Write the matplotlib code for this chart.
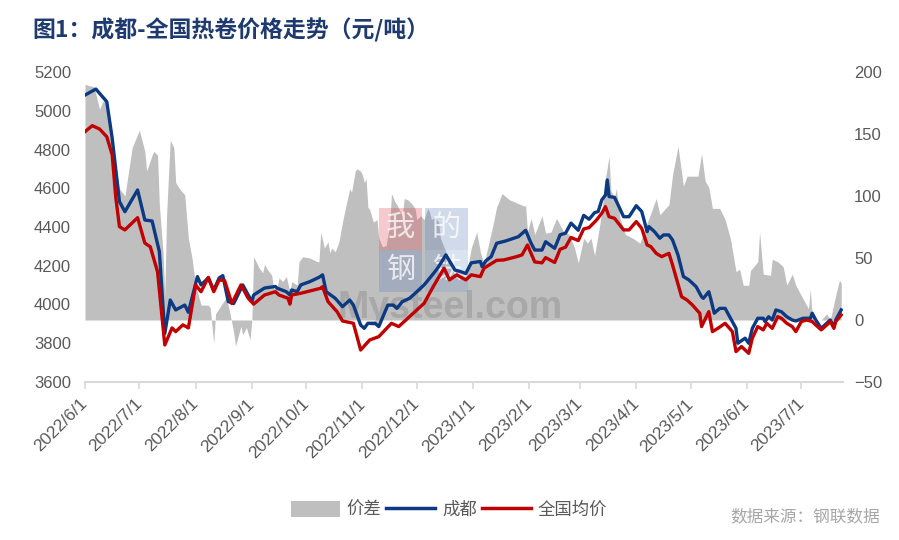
import matplotlib
matplotlib.use('Agg')
import matplotlib.pyplot as plt
from matplotlib.patches import Patch, Rectangle
from matplotlib.lines import Line2D
import pandas as pd

plt.rcParams['font.family'] = ['Liberation Sans', 'Noto Sans CJK SC']

# ---------------- data ----------------
tick_dates = ["2022-06-01", "2022-07-01", "2022-08-01", "2022-09-01", "2022-10-01", "2022-11-01",
              "2022-12-01", "2023-01-01", "2023-02-01", "2023-03-01", "2023-04-01", "2023-05-01",
              "2023-06-01", "2023-07-01"]
tick_labels = ["2022/6/1", "2022/7/1", "2022/8/1", "2022/9/1", "2022/10/1", "2022/11/1",
               "2022/12/1", "2023/1/1", "2023/2/1", "2023/3/1", "2023/4/1", "2023/5/1",
               "2023/6/1", "2023/7/1"]

# 成都
cd_dates = [
    "2022-06-01", "2022-06-07", "2022-06-13", "2022-06-16", "2022-06-20", "2022-06-23", "2022-06-30", "2022-07-04", "2022-07-08", "2022-07-12",
    "2022-07-15", "2022-07-18", "2022-07-21", "2022-07-26", "2022-07-28", "2022-08-02", "2022-08-04", "2022-08-08", "2022-08-11", "2022-08-14",
    "2022-08-16", "2022-08-19", "2022-08-22", "2022-08-27", "2022-09-01", "2022-09-02", "2022-09-08", "2022-09-14", "2022-09-15", "2022-09-20",
    "2022-09-22", "2022-09-23", "2022-09-26", "2022-09-28", "2022-10-03", "2022-10-08", "2022-10-10", "2022-10-12", "2022-10-17", "2022-10-21",
    "2022-10-25", "2022-10-27", "2022-10-31", "2022-11-02", "2022-11-04", "2022-11-08", "2022-11-10", "2022-11-15", "2022-11-18", "2022-11-20",
    "2022-11-23", "2022-11-27", "2022-12-01", "2022-12-05", "2022-12-08", "2022-12-11", "2022-12-13", "2022-12-17", "2022-12-22", "2022-12-25",
    "2022-12-28", "2022-12-31", "2023-01-05", "2023-01-06", "2023-01-08", "2023-01-11", "2023-01-14", "2023-01-19", "2023-01-26", "2023-01-30",
    "2023-02-02", "2023-02-04", "2023-02-08", "2023-02-10", "2023-02-15", "2023-02-18", "2023-02-21", "2023-02-24", "2023-02-28", "2023-03-03",
    "2023-03-06", "2023-03-09", "2023-03-11", "2023-03-13", "2023-03-15", "2023-03-16", "2023-03-17", "2023-03-20", "2023-03-22", "2023-03-25",
    "2023-03-28", "2023-04-01", "2023-04-04", "2023-04-07", "2023-04-08", "2023-04-11", "2023-04-14", "2023-04-16", "2023-04-19", "2023-04-21",
    "2023-04-24", "2023-04-27", "2023-04-30", "2023-05-04", "2023-05-07", "2023-05-08", "2023-05-11", "2023-05-12", "2023-05-14", "2023-05-17",
    "2023-05-20", "2023-05-23", "2023-05-26", "2023-05-27", "2023-05-31", "2023-06-02", "2023-06-04", "2023-06-07", "2023-06-10", "2023-06-11",
    "2023-06-13", "2023-06-15", "2023-06-17", "2023-06-20", "2023-06-23", "2023-06-26", "2023-06-28", "2023-07-02", "2023-07-06", "2023-07-07",
    "2023-07-09", "2023-07-12", "2023-07-15", "2023-07-17", "2023-07-19", "2023-07-20", "2023-07-23"]
cd_vals = [
    5081, 5112, 5047, 4858, 4531, 4479, 4591, 4436, 4431, 4273,
    3850, 4023, 3972, 3997, 3960, 4144, 4101, 4137, 4075, 4137,
    4149, 4015, 4005, 4101, 4015, 4049, 4085, 4093, 4084, 4066,
    4049, 4075, 4066, 4101, 4118, 4140, 4153, 4066, 4032, 3989,
    4023, 3997, 3894, 3877, 3903, 3903, 3886, 3997, 3997, 3980,
    4015, 4032, 4066, 4101, 4135, 4170, 4195, 4256, 4178, 4170,
    4160, 4215, 4222, 4195, 4225, 4247, 4316, 4328, 4350, 4383,
    4316, 4281, 4281, 4324, 4290, 4360, 4368, 4420, 4383, 4460,
    4440, 4474, 4480, 4540, 4565, 4643, 4557, 4553, 4514, 4453,
    4453, 4510, 4480, 4376, 4402, 4376, 4342, 4359, 4359, 4333,
    4256, 4144, 4127, 4092, 4040, 4032, 4066, 4032, 3955, 3980,
    3980, 3929, 3877, 3800, 3826, 3800, 3877, 3929, 3929, 3912,
    3937, 3920, 3972, 3963, 3937, 3920, 3915, 3929, 3929, 3955,
    3920, 3877, 3903, 3920, 3886, 3920, 3972]

# 全国均价
qg_dates = [
    "2022-06-01", "2022-06-05", "2022-06-09", "2022-06-13", "2022-06-16", "2022-06-18", "2022-06-20", "2022-06-23", "2022-06-30", "2022-07-04",
    "2022-07-07", "2022-07-11", "2022-07-15", "2022-07-19", "2022-07-21", "2022-07-25", "2022-07-28", "2022-08-01", "2022-08-04", "2022-08-08",
    "2022-08-11", "2022-08-14", "2022-08-17", "2022-08-21", "2022-08-26", "2022-08-30", "2022-09-02", "2022-09-08", "2022-09-14", "2022-09-16",
    "2022-09-21", "2022-09-22", "2022-09-23", "2022-09-28", "2022-10-09", "2022-10-10", "2022-10-13", "2022-10-18", "2022-10-21", "2022-10-27",
    "2022-10-31", "2022-11-05", "2022-11-10", "2022-11-17", "2022-11-21", "2022-11-29", "2022-12-05", "2022-12-10", "2022-12-16", "2022-12-19",
    "2022-12-23", "2022-12-28", "2022-12-31", "2023-01-05", "2023-01-07", "2023-01-14", "2023-01-18", "2023-01-25", "2023-01-28", "2023-01-31",
    "2023-02-04", "2023-02-08", "2023-02-10", "2023-02-15", "2023-02-18", "2023-02-21", "2023-02-24", "2023-02-28", "2023-03-03", "2023-03-06",
    "2023-03-10", "2023-03-13", "2023-03-15", "2023-03-17", "2023-03-20", "2023-03-25", "2023-03-28", "2023-04-01", "2023-04-04", "2023-04-07",
    "2023-04-09", "2023-04-12", "2023-04-15", "2023-04-19", "2023-04-21", "2023-04-26", "2023-04-29", "2023-05-02", "2023-05-06", "2023-05-07",
    "2023-05-11", "2023-05-13", "2023-05-16", "2023-05-20", "2023-05-24", "2023-05-26", "2023-05-29", "2023-06-02", "2023-06-04", "2023-06-07",
    "2023-06-10", "2023-06-12", "2023-06-15", "2023-06-18", "2023-06-20", "2023-06-23", "2023-06-26", "2023-06-28", "2023-07-01", "2023-07-04",
    "2023-07-07", "2023-07-09", "2023-07-12", "2023-07-15", "2023-07-17", "2023-07-19", "2023-07-20", "2023-07-23"]
qg_vals = [
    4892, 4923, 4906, 4866, 4772, 4550, 4402, 4385, 4448, 4317,
    4298, 4169, 3791, 3879, 3860, 3895, 3879, 4101, 4066, 4140,
    4066, 4127, 4123, 4005, 4101, 4032, 4002, 4049, 4066, 4049,
    4032, 4002, 4049, 4058, 4084, 4092, 4015, 3963, 3915, 3903,
    3765, 3817, 3834, 3903, 3886, 3955, 4006, 4092, 4187, 4127,
    4153, 4127, 4153, 4144, 4187, 4228, 4230, 4247, 4256, 4307,
    4220, 4215, 4242, 4217, 4285, 4296, 4346, 4330, 4390, 4397,
    4435, 4471, 4505, 4453, 4445, 4385, 4385, 4428, 4393, 4307,
    4299, 4264, 4247, 4264, 4204, 4040, 4023, 3997, 3955, 3886,
    3963, 3860, 3877, 3903, 3860, 3757, 3783, 3748, 3826, 3886,
    3869, 3903, 3877, 3937, 3929, 3903, 3886, 3860, 3912, 3920,
    3912, 3894, 3869, 3894, 3912, 3877, 3912, 3946]

# 价差 (right axis)
jc_dates = [
    "2022-06-01", "2022-06-06", "2022-06-09", "2022-06-12", "2022-06-15", "2022-06-17", "2022-06-20", "2022-06-23", "2022-06-27", "2022-07-01",
    "2022-07-04", "2022-07-05", "2022-07-08", "2022-07-09", "2022-07-11", "2022-07-12", "2022-07-14", "2022-07-15", "2022-07-16", "2022-07-18",
    "2022-07-20", "2022-07-21", "2022-07-23", "2022-07-26", "2022-07-28", "2022-07-30", "2022-08-01", "2022-08-04", "2022-08-08", "2022-08-09",
    "2022-08-11", "2022-08-12", "2022-08-16", "2022-08-18", "2022-08-20", "2022-08-22", "2022-08-23", "2022-08-26", "2022-08-27", "2022-08-29",
    "2022-08-31", "2022-09-01", "2022-09-02", "2022-09-05", "2022-09-07", "2022-09-08", "2022-09-09", "2022-09-12", "2022-09-13", "2022-09-15",
    "2022-09-16", "2022-09-18", "2022-09-20", "2022-09-22", "2022-09-23", "2022-09-26", "2022-09-27", "2022-09-29", "2022-10-03", "2022-10-07",
    "2022-10-08", "2022-10-09", "2022-10-11", "2022-10-13", "2022-10-14", "2022-10-15", "2022-10-17", "2022-10-19", "2022-10-21", "2022-10-23",
    "2022-10-25", "2022-10-26", "2022-10-28", "2022-10-29", "2022-10-31", "2022-11-01", "2022-11-02", "2022-11-03", "2022-11-04", "2022-11-05",
    "2022-11-07", "2022-11-09", "2022-11-10", "2022-11-12", "2022-11-14", "2022-11-16", "2022-11-17", "2022-11-19", "2022-11-20", "2022-11-21",
    "2022-11-23", "2022-11-24", "2022-11-26", "2022-11-28", "2022-11-30", "2022-12-01", "2022-12-03", "2022-12-05", "2022-12-07", "2022-12-08",
    "2022-12-09", "2022-12-11", "2022-12-13", "2022-12-14", "2022-12-17", "2022-12-19", "2022-12-20", "2022-12-23", "2022-12-25", "2022-12-28",
    "2022-12-31", "2023-01-03", "2023-01-05", "2023-01-07", "2023-01-12", "2023-01-14", "2023-01-17", "2023-01-21", "2023-01-29", "2023-01-30",
    "2023-01-31", "2023-02-02", "2023-02-04", "2023-02-08", "2023-02-10", "2023-02-13", "2023-02-16", "2023-02-20", "2023-02-23", "2023-02-26",
    "2023-02-28", "2023-03-03", "2023-03-05", "2023-03-07", "2023-03-09", "2023-03-12", "2023-03-14", "2023-03-15", "2023-03-17", "2023-03-18",
    "2023-03-20", "2023-03-21", "2023-03-23", "2023-03-26", "2023-03-30", "2023-04-03", "2023-04-06", "2023-04-08", "2023-04-12", "2023-04-14",
    "2023-04-19", "2023-04-21", "2023-04-24", "2023-04-27", "2023-04-29", "2023-05-05", "2023-05-07", "2023-05-09", "2023-05-11", "2023-05-13",
    "2023-05-17", "2023-05-20", "2023-05-23", "2023-05-26", "2023-05-28", "2023-05-30", "2023-06-02", "2023-06-03", "2023-06-07", "2023-06-08",
    "2023-06-10", "2023-06-14", "2023-06-15", "2023-06-18", "2023-06-21", "2023-06-23", "2023-06-26", "2023-06-28", "2023-07-02", "2023-07-05",
    "2023-07-06", "2023-07-07", "2023-07-09", "2023-07-12", "2023-07-15", "2023-07-17", "2023-07-20", "2023-07-22", "2023-07-23"]
jc_vals = [
    190, 188, 170, 180, 160, 133, 106, 100, 139, 153,
    136, 120, 133, 136, 133, 93, 55, 20, 85, 145,
    139, 111, 106, 101, 66, 50, 28, 12, 12, 10,
    -19, 5, 14, 18, 5, -10, -21, -5, -12, -6,
    -16, 0, 51, 42, 38, 45, 42, 36, 25, 27,
    34, 31, 35, 23, 31, 28, 47, 51, 50, 47,
    47, 71, 58, 63, 54, 58, 55, 63, 79, 93,
    106, 103, 120, 122, 120, 117, 111, 114, 91, 89,
    79, 81, 66, 59, 60, 76, 102, 95, 93, 90,
    84, 98, 97, 94, 90, 81, 84, 81, 90, 87,
    81, 83, 79, 66, 55, 50, 44, 39, 34, 34,
    58, 71, 55, 45, 77, 91, 102, 97, 92, 92,
    71, 82, 69, 84, 70, 71, 82, 71, 69, 58,
    46, 66, 62, 66, 52, 78, 99, 114, 132, 104,
    99, 106, 82, 69, 66, 62, 75, 82, 98, 85,
    93, 117, 140, 108, 116, 116, 134, 112, 107, 90,
    90, 81, 65, 39, 41, 28, 28, 40, 47, 71,
    37, 36, 49, 47, 43, 28, 37, 28, 17, 9,
    25, 3, 0, 0, 5, 0, 20, 32, 30]

title_text = "图1：成都-全国热卷价格走势（元/吨）"
source_text = "数据来源：钢联数据"
series_names = ["价差", "成都", "全国均价"]

# ---------------- drawing ----------------
W, H = 899, 540
fig = plt.figure(figsize=(W / 100, H / 100), dpi=100)
ax = fig.add_axes([85 / W, 1 - 382 / H, (843 - 85) / W, 310 / H])
ax2 = ax.twinx()

c_gray = '#BFBFBF'
c_blue = '#0B3A82'
c_red = '#C00000'
c_txt = '#595959'

ax2.fill_between(pd.to_datetime(jc_dates), 0, jc_vals, color=c_gray, linewidth=0)
ax.plot(pd.to_datetime(cd_dates), cd_vals, color=c_blue, lw=2.4, solid_joinstyle='round')
ax.plot(pd.to_datetime(qg_dates), qg_vals, color=c_red, lw=2.4, solid_joinstyle='round')

ax.set_zorder(ax2.get_zorder() + 1)
ax.patch.set_visible(False)

ax.set_ylim(3600, 5200)
ax.set_yticks(range(3600, 5201, 200))
ax2.set_ylim(-50, 200)
ax2.set_yticks(range(-50, 201, 50))
ax2.set_yticklabels([str(v).replace('-', '\u2212') for v in range(-50, 201, 50)])
ax.set_xlim(pd.Timestamp('2022-06-01'), pd.Timestamp('2023-07-24'))
ax.set_xticks(pd.to_datetime(tick_dates))
ax.set_xticklabels(tick_labels, rotation=45, ha='right', va='center', rotation_mode='anchor')

for a in (ax, ax2):
    for s in a.spines.values():
        s.set_visible(False)
ax.spines['bottom'].set_visible(True)
ax.spines['bottom'].set_color('#D9D9D9')
ax.spines['bottom'].set_linewidth(1.5)
ax.tick_params(axis='x', length=5, width=1.2, color='#D9D9D9', labelcolor=c_txt, labelsize=12.5, pad=9)
ax.tick_params(axis='y', length=0, labelcolor=c_txt, labelsize=12, pad=10)
ax2.tick_params(axis='y', length=0, labelcolor=c_txt, labelsize=12, pad=8)

# watermark
def px(x, y):
    return x / W, 1 - y / H
boxes = [((379, 250), '#D9434F', '我'), ((425, 250), '#5B7DB8', '的'),
         ((379, 292), '#5B7DB8', '钢'), ((425, 292), '#7D9CCB', '铁')]
for (x0, y0), col, ch in boxes:
    fx, fy = px(x0, y0)
    ax.add_patch(Rectangle((fx, fy), 43 / W, 42 / H, transform=fig.transFigure,
                           facecolor=col, alpha=0.28, linewidth=0, zorder=1.5))
    cx, cy = px(x0 + 21.5, y0 - 22)
    ax.text(cx, cy, ch, transform=fig.transFigure, ha='center', va='center',
            fontsize=21, color='white', alpha=0.75, family=['Noto Sans CJK SC'], zorder=1.6)
mx, my = px(450, 308)
ax.text(mx, my, 'Mysteel.com', transform=fig.transFigure, ha='center', va='center',
        fontsize=27, color='#8C8C8C', alpha=0.45, fontweight='bold', zorder=1.6)

# title and source
tx, ty = px(32, 30)
fig.text(tx, ty, title_text, fontsize=16.5, fontweight='bold', color='#1F3A6E',
         va='center', ha='left', family=['Noto Sans CJK SC', 'DejaVu Sans'])
sx, sy = px(880, 517)
fig.text(sx, sy, source_text, fontsize=12, color='#A6A6A6', va='center', ha='right',
         family=['Noto Sans CJK SC'])

handles = [Patch(facecolor=c_gray, edgecolor='none'),
           Line2D([], [], color=c_blue, lw=2.5),
           Line2D([], [], color=c_red, lw=2.5)]
lx, ly = px(449, 510)
leg = fig.legend(handles, series_names, loc='center', bbox_to_anchor=(lx, ly), ncol=3,
                 frameon=False, handlelength=2.8, handleheight=1.0,
                 columnspacing=0.3, handletextpad=0.4,
                 prop={'family': ['Noto Sans CJK SC'], 'size': 12.5})
for t in leg.get_texts():
    t.set_color(c_txt)

fig.savefig('out.png', dpi=100)
